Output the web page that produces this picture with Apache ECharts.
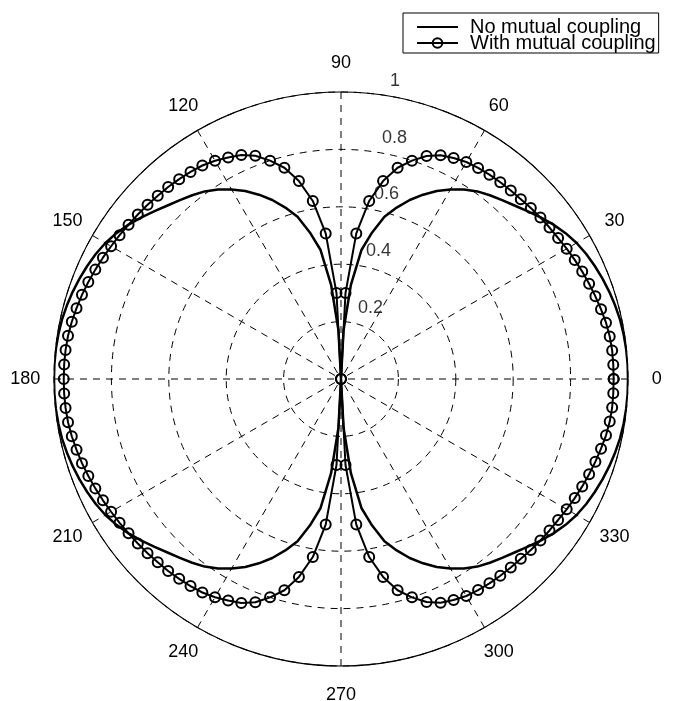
<!DOCTYPE html>
<html>
<head>
<meta charset="utf-8">
<script src="https://cdn.jsdelivr.net/npm/echarts@6/dist/echarts.min.js"></script>
<style>
  html, body { margin: 0; padding: 0; background: #fff; }
  #chart { width: 674px; height: 701px; }
</style>
</head>
<body>
<div id="chart"></div>
<script>
// Sampling angles in degrees (3 degree step, closed at 360)
const angleDeg = Array.from({ length: 121 }, (_, i) => i * 3);

// Normalised pattern, no mutual coupling
const noCoupling = [
  1.000,1.000,0.999,0.997,0.994,0.989,0.983,0.976,0.968,0.959,0.948,0.933,0.915,0.895,0.874,0.855,
  0.839,0.824,0.808,0.787,0.762,0.735,0.703,0.668,0.628,0.585,0.522,0.455,0.330,0.170,0,
  0.170,0.330,0.455,0.522,0.585,0.628,0.668,0.703,0.735,0.762,0.787,0.808,0.824,0.839,0.855,
  0.874,0.895,0.915,0.933,0.948,0.959,0.968,0.976,0.983,0.989,0.994,0.997,0.999,1.000,1.000,
  1.000,0.999,0.997,0.994,0.989,0.983,0.976,0.968,0.959,0.948,0.933,0.915,0.895,0.874,0.855,
  0.839,0.824,0.808,0.787,0.762,0.735,0.703,0.668,0.628,0.585,0.522,0.455,0.330,0.170,0,
  0.170,0.330,0.455,0.522,0.585,0.628,0.668,0.703,0.735,0.762,0.787,0.808,0.824,0.839,0.855,
  0.874,0.895,0.915,0.933,0.948,0.959,0.968,0.976,0.983,0.989,0.994,0.997,0.999,1.000,1.000
];

// Normalised pattern, with mutual coupling
const withCoupling = [
  0.950,0.950,0.950,0.948,0.944,0.938,0.932,0.926,0.920,0.914,0.908,0.902,0.898,0.894,0.890,0.886,
  0.884,0.882,0.880,0.877,0.873,0.864,0.853,0.832,0.800,0.762,0.705,0.628,0.510,0.300,0,
  0.300,0.510,0.628,0.705,0.762,0.800,0.833,0.854,0.866,0.878,0.887,0.892,0.896,0.900,0.903,
  0.907,0.911,0.915,0.920,0.925,0.931,0.937,0.943,0.949,0.954,0.959,0.963,0.965,0.966,0.966,
  0.966,0.965,0.963,0.959,0.954,0.949,0.943,0.937,0.931,0.925,0.920,0.915,0.911,0.907,0.903,
  0.900,0.896,0.892,0.887,0.878,0.866,0.854,0.833,0.800,0.762,0.705,0.628,0.510,0.300,0,
  0.300,0.510,0.628,0.705,0.762,0.800,0.832,0.853,0.864,0.873,0.877,0.880,0.882,0.884,0.886,
  0.890,0.894,0.898,0.902,0.908,0.914,0.920,0.926,0.932,0.938,0.944,0.948,0.950,0.950,0.950
];

// Angle tick labels and radial ring labels
const angleTicks = [0, 30, 60, 90, 120, 150, 180, 210, 240, 270, 300, 330];
const radiusTicks = [0.2, 0.4, 0.6, 0.8, 1];
const radiusTickLabels = ['0.2', '0.4', '0.6', '0.8', '1'];

const FONT = "'Liberation Sans', Arial, Helvetica, sans-serif";
const DASH = [7, 6];

const chart = echarts.init(document.getElementById('chart'), null, { renderer: 'canvas' });

chart.setOption({
  animation: false,
  backgroundColor: '#fff',
  textStyle: { fontFamily: FONT, color: '#000' },
  legend: {
    data: ['No mutual coupling', 'With mutual coupling'],
    orient: 'vertical',
    align: 'left',
    left: 403,
    top: 13,
    padding: [4, 3, 0, 13],
    itemGap: -4,
    itemWidth: 41,
    itemHeight: 12,
    borderColor: '#000',
    borderWidth: 1,
    backgroundColor: '#fff',
    selectedMode: false,
    textStyle: { fontFamily: FONT, fontSize: 20, color: '#000', padding: [0, 0, 0, 7] }
  },
  polar: { center: [341, 379], radius: 287 },
  angleAxis: {
    type: 'value',
    min: 0,
    max: 360,
    interval: 30,
    startAngle: 0,
    clockwise: false,
    axisLine: { show: true, lineStyle: { color: '#000', width: 1.2 } },
    axisTick: { show: false },
    axisLabel: { show: false },
    splitLine: { show: true, lineStyle: { color: '#000', width: 1, type: DASH } }
  },
  radiusAxis: {
    type: 'value',
    min: 0,
    max: 1,
    interval: 0.2,
    axisLine: { show: false },
    axisTick: { show: false },
    axisLabel: { show: false },
    splitLine: { show: true, lineStyle: { color: '#000', width: 1, type: DASH } }
  },
  series: [
    {
      name: 'No mutual coupling',
      type: 'line',
      coordinateSystem: 'polar',
      data: angleDeg.map((a, i) => [noCoupling[i], a]),
      showSymbol: false,
      symbol: 'none',
      lineStyle: { color: '#000', width: 2.5 },
      itemStyle: { color: 'rgba(0,0,0,0)' },
      z: 3
    },
    {
      name: 'With mutual coupling',
      type: 'line',
      coordinateSystem: 'polar',
      data: angleDeg.map((a, i) => [withCoupling[i], a]),
      showSymbol: true,
      showAllSymbol: true,
      symbol: 'circle',
      symbolSize: 10,
      lineStyle: { color: '#000', width: 2 },
      itemStyle: { color: 'rgba(255,255,255,0)', borderColor: '#000', borderWidth: 2 },
      z: 4
    },
    {
      // angle labels centred just outside the rim
      name: 'angle labels',
      type: 'custom',
      coordinateSystem: 'polar',
      silent: true,
      data: angleTicks.map(a => [1.1, a]),
      renderItem: (params, api) => {
        const pt = api.coord([api.value(0), api.value(1)]);
        return {
          type: 'text',
          x: pt[0],
          y: pt[1],
          style: {
            text: String(angleTicks[params.dataIndex]),
            fontFamily: FONT,
            fontSize: 18,
            fill: '#000',
            align: 'center',
            verticalAlign: 'middle'
          }
        };
      },
      z: 5
    },
    {
      // ring value labels along the 82 degree direction
      name: 'ring labels',
      type: 'scatter',
      coordinateSystem: 'polar',
      silent: true,
      symbolSize: 0,
      itemStyle: { color: 'rgba(0,0,0,0)' },
      data: radiusTicks.map(r => [r, 82]),
      label: {
        show: true,
        position: 'right',
        distance: 9,
        offset: [0, -14],
        fontFamily: FONT,
        fontSize: 18,
        color: '#000',
        formatter: p => radiusTickLabels[p.dataIndex]
      },
      z: 5
    }
  ]
});
</script>
</body>
</html>
